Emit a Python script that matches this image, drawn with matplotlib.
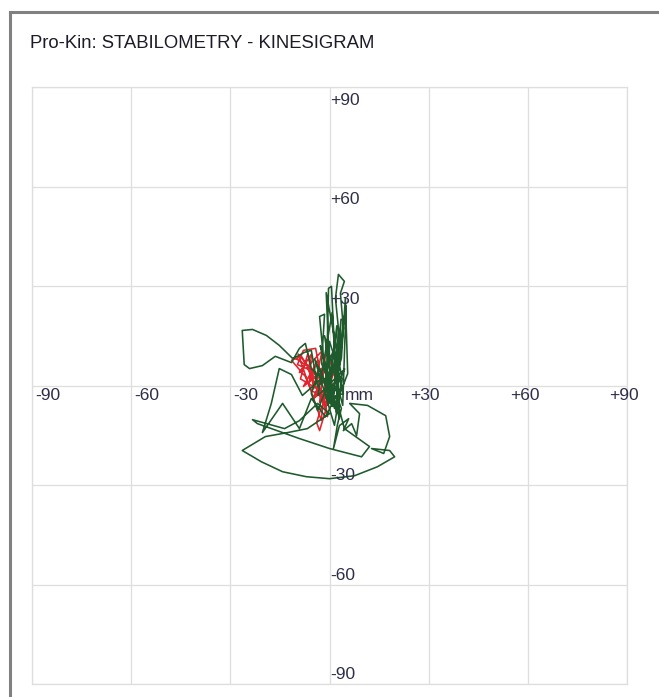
import matplotlib
matplotlib.use("Agg")
import matplotlib.pyplot as plt
from matplotlib.lines import Line2D

# kinesigram traces, mm (centre of pressure path)
green_x = [0, -1.2, 1.2, -0.6, 3.0, 1.8, 2.7, 4.5, 3.3, 4.2, 2.4, 0.3, -1.8, -3.0, -1.5, -2.4,
           0.9, 3.6, 4.8, 5.5, 1.5, -0.9, -0.3, 0.6, 1.8, -3.6, -5.5, -7.6, -9.7, -11.2, -15.2,
           -19.1, -23.3, -26.4, -25.8, -24.2, -20.3, -16.4, -11.5, -9.1, -7.3, -5.5, -2.4, -8.2,
           -11.5, -15.2, -17.6, -20.3, -14.2, -9.1, -5.5, -1.2, 2.1, 3.6, 2.4, 1.2, 3.0, 5.8, 4.2,
           6.7, 8.2, 9.1, 6.1, 11.5, 17.0, 18.2, 16.4, 12.7, 18.2, 19.7, 14.5, 7.6, 0, -7.0,
           -14.2, -20.6, -26.4, -19.4, -12.7, -6.7, 0, -3.6, -9.1, -13.6, -23.3, -21.8, -9.1, 0,
           9.7, 12.1, 4.5, 2.1, -1.2, -3.6, -5.5, -3.0, 0, 4.2, 1.8, 0, -1.2, 0.9,
           1.0, 3.5, 2.0, -1.5, 4.0, 5.0, 1.2, -2.8, 3.0, 2.2, -0.5, 4.6, -3.5, 0.8, 2.6, -4.5,
           1.5, 3.8, -1.0, 0.4]
green_y = [-0.9, 4.5, 10.6, -3.3, 14.2, 26.3, 33.5, 31.4, 27.8, 17.2, 0.9, -5.4, 8.2, 20.8, 21.5,
           6.6, -1.5, 8.2, 26.3, 3.6, -6.9, 2.1, 29.3, 29.9, 5.1, -0.3, 10.6, 10.0, 8.8, 8.2, 12.1,
           15.1, 16.9, 16.6, 6.3, 5.1, 6.0, 8.8, 6.9, 11.2, 12.7, 5.1, 2.1, -3.0, 3.3, 5.1, -5.4,
           -14.2, -5.4, -13.0, -3.9, -9.4, -3.0, -6.9, -11.8, -19.0, -12.1, -10.0, -13.6, -11.5,
           -15.1, -8.5, -5.4, -6.0, -9.1, -15.4, -20.5, -19.0, -19.6, -21.5, -24.5, -27.2, -28.1,
           -27.5, -26.0, -23.0, -19.6, -15.4, -14.2, -13.0, -8.5, -5.4, -10.6, -13.0, -10.3, -11.5,
           -16.0, -19.0, -21.5, -18.4, -13.0, -3.9, -1.5, -7.6, -2.4, 5.1, -3.9, -2.4, 7.6, 13.3,
           -2.4, -6.3,
           -4.0, 20.0, -8.0, 15.0, -6.0, 24.0, -2.0, 12.0, -10.0, 18.0, -6.0, 5.0, -3.0, 22.0,
           -7.0, 8.0, -12.0, 2.0, 28.0, -4.0]

red_x = [-10.3, -7.3, -9.1, -5.5, -6.1, -3.6, -7.9, -1.8, -4.2, -1.2, -3.0, 0, -1.2, -3.0, -3.9,
         -2.4, 1.2, -0.6, -5.5, -9.7, -7.9, -4.2, -3.0, 1.2, 0, 3.0, -1.2, -5.5, -7.3, -11.5,
         -8.5, -3.6, -0.6, -1.8, -8.8, -6.5, -4.8, -2.2, -6.8, -1.5, -4.0, -9.5, -2.5, -0.8,
         -5.0, 1.8]
red_y = [8.2, 6.3, 3.9, 9.4, 0.9, 7.6, -0.3, 4.5, -3.3, 9.4, -5.1, 2.1, -7.6, -13.6, -11.2,
         -6.3, -2.7, -0.3, 4.5, 6.3, 10.6, 11.2, 5.1, 3.3, 8.2, 9.4, -3.9, -1.5, 2.7, 7.6, 8.8,
         0.9, -9.4, -2.1, 2.0, 9.8, -1.0, 10.5, 5.5, -6.0, 3.0, 9.5, -10.5, 6.0, -4.0, 1.0]

ticks = [-90, -60, -30, 0, 30, 60, 90]
x_labels = ["-90", "-60", "-30", "mm", "+30", "+60", "+90"]
y_labels = ["-90", "-60", "-30", "+30", "+60", "+90"]
y_label_vals = [-90, -60, -30, 30, 60, 90]

W, H = 659, 697
fig = plt.figure(figsize=(W / 100, H / 100), dpi=100)
fig.patch.set_facecolor("white")

ax = fig.add_axes([32 / W, 1 - 684 / H, 595 / W, 597 / H])
ax.set_xlim(-90, 90)
ax.set_ylim(-90, 90)
ax.set_xticks(ticks)
ax.set_yticks(ticks)
ax.grid(True, color="#dedede", lw=0.9)
ax.tick_params(length=0, labelbottom=False, labelleft=False)
for s in ax.spines.values():
    s.set_color("#dedede")
    s.set_linewidth(0.9)

ax.plot(red_x, red_y, color="#e0262e", lw=1.15, zorder=3, solid_joinstyle="round")
ax.plot(green_x, green_y, color="#1e5a2c", lw=1.15, zorder=4, solid_joinstyle="round")

lab = dict(fontsize=12.5, family="Liberation Sans", color="#2e2e48", va="center", zorder=5)
for v, t in zip(ticks, x_labels):
    if t == "mm":
        ax.text(4.5, -3.0, t, ha="left", **lab)
    elif v < 0:
        ax.text(v + 0.9, -3.0, t, ha="left", **lab)
    else:
        ax.text(v - 1.0, -3.0, t, ha="center", **lab)
for v, t in zip(y_label_vals, y_labels):
    dy = -4.0 if v > 0 else 2.8
    ax.text(0.2, v + dy, t, ha="left", **lab)

# outer frame (left and top edges)
fig.add_artist(Line2D([10 / W, 10 / W], [0, 1 - 12 / H], transform=fig.transFigure,
                      color="#808080", lw=2.2))
fig.add_artist(Line2D([10 / W, 1], [1 - 12 / H, 1 - 12 / H], transform=fig.transFigure,
                      color="#808080", lw=2.2))

fig.text(30 / W, 1 - 43 / H, "Pro-Kin: STABILOMETRY - KINESIGRAM", fontsize=13.3,
         family="Liberation Sans", color="#1c1c28", va="center", ha="left")

fig.savefig("out.png", dpi=100)
